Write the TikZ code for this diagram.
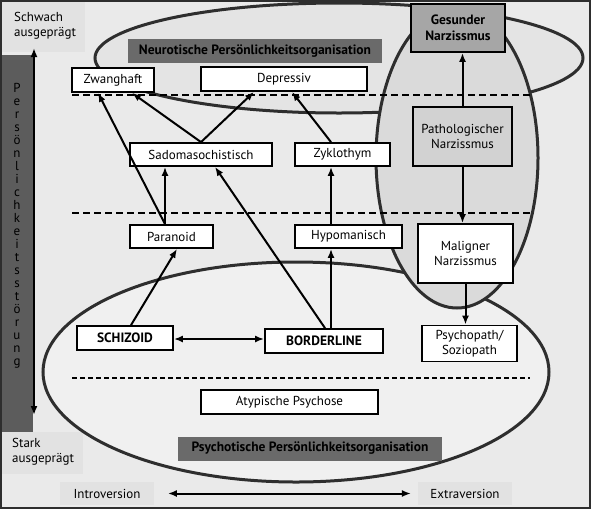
\documentclass[tikz,border=0pt]{standalone}
\usepackage{fontspec}
\setmainfont{PT Sans}
\usepackage{tikz}
\usetikzlibrary{positioning, arrows.meta, calc}
\usepackage{xcolor}
\definecolor{bg-grey}{HTML}{EAEAEA}
\definecolor{bar-grey}{HTML}{5C5C5C}
\definecolor{axis-grey}{HTML}{E2E2E2}
\definecolor{orga-grey}{HTML}{6A6A6A}
\definecolor{neuro-grey}{HTML}{E4E4E4}
\definecolor{psycho-grey}{HTML}{F0F0F0}
\definecolor{narz-grey}{HTML}{DADADA}
\definecolor{gesund-grey}{HTML}{A6A6A6}
\definecolor{patho-grey}{HTML}{D2D2D2}
\definecolor{line-grey}{HTML}{2E2E2E}

\begin{document}
\begin{tikzpicture}[x=1pt, y=-1pt, >={Latex[length=9pt,width=7pt]},
  font=\fontsize{13}{15}\selectfont,
  typ/.style={draw, line width=1.8pt, fill=white, inner sep=0pt, minimum height=23pt},
  narzbox/.style={typ, align=center, minimum width=95pt},
  fett/.style={font=\fontsize{13.5}{15.5}\selectfont\bfseries},
  orga/.style={fett, fill=orga-grey, inner sep=0pt, minimum height=24pt},
  ell/.style={draw=line-grey, line width=3pt},
  trenn/.style={dash pattern=on 7pt off 4pt, line width=2pt},
  pfeil/.style={->, line width=2pt}]
\useasboundingbox (0,0) rectangle (591,509);
\fill[bg-grey] (0,0) rectangle (591,509);
% linke Achse
\fill[bar-grey] (0,55) rectangle (33,432);
\fill[axis-grey] (0,0) rectangle (85,52);
\fill[axis-grey] (0,432) rectangle (83,474);
\fill[axis-grey] (60,482) rectangle (154,505);
\fill[axis-grey] (418,482) rectangle (512,505);
\node[anchor=west, align=left, inner sep=2pt] (schwach) at (12,26) {Schwach\\ausgeprägt};
\node[anchor=west, align=left, inner sep=2pt] (stark) at (10,452) {Stark\\ausgeprägt};
\node[align=center, font=\fontsize{13}{13}\selectfont] (pstoerung) at (17,226)
  {P\\e\\r\\s\\ö\\n\\l\\i\\c\\h\\k\\e\\i\\t\\s\\s\\t\\ö\\r\\u\\n\\g};
\coordinate (oben) at (34,48);
\coordinate (unten) at (34,415);
\draw[<->, line width=2pt] (oben) -- (unten);
\node (intro) at (107,493.5) {Introversion};
\node (extra) at (465,493.5) {Extraversion};
\draw[<->, line width=2pt] ([xshift=24pt]intro.east) -- ([xshift=-16pt]extra.west);

% Organisationsebenen
\draw[ell, fill=neuro-grey] (339,58) ellipse [x radius=244, y radius=55];
\draw[ell, fill=psycho-grey] (296,372) ellipse [x radius=253, y radius=110];
\draw[ell, fill=narz-grey] (457,158) ellipse [x radius=81, y radius=150];
\draw[trenn] (72,95) -- (530,95);
\draw[trenn] (72,213) -- (533,213);
\draw[dash pattern=on 5pt off 3pt, line width=1.3pt] (72,378) -- (530,378);

\node[orga, minimum width=254pt] (neuro) at (255,51) {Neurotische Persönlichkeitsorganisation};
\node[orga, minimum width=264pt] (psychot) at (310,448.5) {Psychotische Persönlichkeitsorganisation};

% Stoerungen
\node[typ, minimum width=82pt, minimum height=24pt] (zwang) at (113,80) {Zwanghaft};
\node[typ, minimum width=166pt, minimum height=24pt] (depressiv) at (284,79) {Depressiv};
\node[typ, minimum width=142pt] (sado) at (201,154.5) {Sadomasochistisch};
\node[typ, minimum width=95pt] (zyklo) at (342.5,154.5) {Zyklothym};
\node[typ, minimum width=83pt] (paranoid) at (171.5,236.5) {Paranoid};
\node[typ, minimum width=107pt] (hypo) at (348.5,236.5) {Hypomanisch};
\node[typ, fett, minimum width=96pt, minimum height=24pt] (schizoid) at (125,338) {SCHIZOID};
\node[typ, fett, minimum width=118pt, minimum height=24pt] (borderline) at (324,341) {BORDERLINE};
\node[typ, minimum width=177pt, minimum height=24pt] (atyp) at (289.5,402) {Atypische Psychose};

% Narzissmus
\node[narzbox, fett, fill=gesund-grey, minimum width=94pt, minimum height=48pt] (gesund) at (458,28) {Gesunder\\Narzissmus};
\node[narzbox, fill=patho-grey, minimum width=99pt, minimum height=59pt] (patho) at (462.5,136.5) {Pathologischer\\Narzissmus};
\node[narzbox, minimum height=59pt] (malign) at (465.5,253.5) {Maligner\\Narzissmus};
\node[narzbox, minimum height=36pt] (psycho) at (469.5,343.5) {Psychopath/\\Soziopath};

\draw[pfeil] ([xshift=-6.5pt]paranoid.north) -- ([xshift=-15pt]zwang.south);
\draw[pfeil] ([xshift=-6.5pt]paranoid.north) -- ([xshift=-36pt]sado.south);
\draw[pfeil] (sado.north) -- ([xshift=19pt]zwang.south);
\draw[pfeil] (sado.north) -- ([xshift=-30pt]depressiv.south);
\draw[pfeil] ([xshift=-11.5pt]zyklo.north) -- ([xshift=8pt]depressiv.south);
\draw[pfeil] ([xshift=-17.5pt]hypo.north) -- ([xshift=-11.5pt]zyklo.south);
\draw[pfeil] ([xshift=7pt]borderline.north) -- ([xshift=-17.5pt]hypo.south);
\draw[pfeil] ([xshift=1pt]borderline.north) -- ([xshift=14pt]sado.south);
\draw[pfeil] ([xshift=6pt]schizoid.north) -- ([xshift=5.5pt]paranoid.south);
\draw[<->, line width=2pt] ([yshift=-1pt]schizoid.east) -- ([yshift=-1pt]schizoid.east -| borderline.west);
\draw[pfeil] (patho.north) -- (patho.north |- gesund.south);
\draw[pfeil] (patho.south) -- (patho.south |- malign.north);
\draw[pfeil] (malign.south) -- (malign.south |- psycho.north);

\draw[line width=2pt, line-grey] (1,1) rectangle (590,508);
\end{tikzpicture}
\end{document}
